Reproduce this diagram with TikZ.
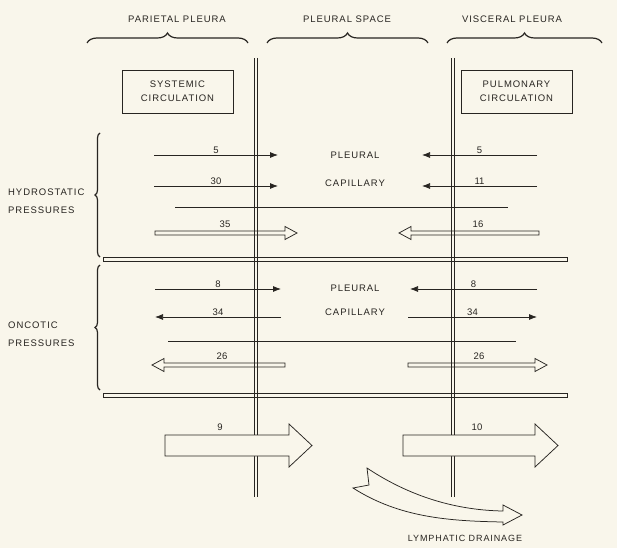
\documentclass[tikz,border=0pt]{standalone}
\usepackage{fontspec}
\setmainfont{Liberation Sans}
\newfontfamily\capsfont[LetterSpace=10]{Liberation Sans}
\usetikzlibrary{arrows.meta,decorations.pathreplacing}

\definecolor{paper}{RGB}{249,246,235}
\definecolor{ink}{RGB}{40,37,33}
\tikzstyle{lbl} = [font=\capsfont\fontsize{9.5}{11}\selectfont, text=ink, inner sep=0pt]
\tikzstyle{num} = [font=\fontsize{9.5}{10}\selectfont, text=ink, anchor=south, inner sep=1pt]

% open arrow: tail x, tip x, y, direction (1 right, -1 left)
\newcommand{\openarrow}[4]{%
  \draw[hollow] ({#1},{#3-2}) -- ({#2-12*(#4)},{#3-2}) -- ({#2-12*(#4)},{#3-6.5}) -- ({#2},{#3})
    -- ({#2-12*(#4)},{#3+6.5}) -- ({#2-12*(#4)},{#3+2}) -- ({#1},{#3+2}) -- cycle;}
% big arrow: tail x, head base x, tip x, y
\newcommand{\bigarrow}[4]{%
  \draw[bigarrow] ({#1},{#4-10.5}) -- ({#2},{#4-10.5}) -- ({#2},{#4-21.5}) -- ({#3},{#4})
    -- ({#2},{#4+21.5}) -- ({#2},{#4+10.5}) -- ({#1},{#4+10.5}) -- cycle;}

\begin{document}
\begin{tikzpicture}[x=1pt,y=-1pt,
    line/.style={ink, line width=0.75pt},
    push/.style={line, -{Latex[length=8pt,width=6pt]}},
    hollow/.style={line, line join=miter},
    bigarrow/.style={line, fill=paper, line join=miter},
    wall/.style={ink, line width=0.6pt, double=paper, double distance=2.4pt},
    box/.style={draw=ink, line width=0.75pt, minimum width=111, minimum height=43, align=center,
                font=\capsfont\fontsize{9.5}{14}\selectfont, text=ink},
    curly/.style={ink, line width=1.2pt, decorate, decoration={brace, amplitude=#1}}]

  \fill[paper] (0,0) rectangle (617,548);
  \useasboundingbox (0,0) rectangle (617,548);

  % headings
  \node[lbl] (parietal) at (177,19) {PARIETAL PLEURA};
  \node[lbl] (space) at (347,19) {PLEURAL SPACE};
  \node[lbl] (visceral) at (512,19) {VISCERAL PLEURA};
  \draw[curly=10pt] (87,43) -- (248,43);
  \draw[curly=10pt] (267,43) -- (428,43);
  \draw[curly=10pt] (447,43) -- (602,43);

  % the two pleurae
  \coordinate (ptop) at (256,58);
  \coordinate (pbot) at (256,497);
  \coordinate (vtop) at (453,58);
  \coordinate (vbot) at (453,497);
  \draw[wall] (ptop) -- (pbot);
  \draw[wall] (vtop) -- (vbot);

  \node[box] (systemic) at (177.5,91.5) {SYSTEMIC\\CIRCULATION};
  \node[box] (pulmonary) at (516.5,91.5) {PULMONARY\\CIRCULATION};

  % side labels
  \draw[curly=5pt] (100,257) -- (100,133);
  \draw[curly=5pt] (100,390) -- (100,265);
  \node[lbl, anchor=west, align=left, font=\capsfont\fontsize{9.5}{18}\selectfont] (hydro) at (8,201) {HYDROSTATIC\\PRESSURES};
  \node[lbl, anchor=west, align=left, font=\capsfont\fontsize{9.5}{18}\selectfont] (oncotic) at (8,334) {ONCOTIC\\PRESSURES};

  \draw[line] (103,257.5) rectangle (567,261.5);
  \draw[line] (103,393.5) rectangle (567,397.5);

  \node[lbl] (hpleural) at (355,155) {PLEURAL};
  \node[lbl] (hcapillary) at (355,183) {CAPILLARY};
  \node[lbl] (opleural) at (355,288) {PLEURAL};
  \node[lbl] (ocapillary) at (355,312) {CAPILLARY};

  % pressures
  \foreach \n/\xa/\xb/\y/\v in {ha/154/278/155/5, hb/154/278/186/30, hc/537/422/155/5, hd/537/422/186/11,
                                oa/155/281/289/8, ob/281/155/317/34, oc/537/410/289/8, od/408/537/317/34}{
    \coordinate (\n-s) at (\xa,\y);
    \coordinate (\n-e) at (\xb,\y);
    \draw[push] (\n-s) -- node[num] {\v} (\n-e);
  }
  \draw[line] (175,207) -- (508,207);
  \draw[line] (168,341) -- (516,341);

  \openarrow{155}{297}{233}{1}
  \openarrow{539}{399}{233}{-1}
  \openarrow{285}{152}{365}{-1}
  \openarrow{408}{547}{365}{1}
  \node[num] (h35) at (225,229) {35};
  \node[num] (h16) at (478,229) {16};
  \node[num] (o26l) at (222,361) {26};
  \node[num] (o26r) at (479,361) {26};

  % net flow
  \bigarrow{165}{289}{312}{445.5}
  \bigarrow{403}{535}{558}{445.5}
  \node[num] (net9) at (220,432) {9};
  \node[num] (net10) at (477,432) {10};

  \draw[bigarrow] (367,468) .. controls (400,490) and (445,510) .. (503,511) -- (503,505) -- (522,515)
    -- (503,525) -- (503,522) .. controls (450,521) and (400,518) .. (353,488) -- (369,485) -- cycle;
  \node[lbl, font=\capsfont\fontsize{9}{11}\selectfont] (lymph) at (465,538) {LYMPHATIC DRAINAGE};
\end{tikzpicture}
\end{document}
